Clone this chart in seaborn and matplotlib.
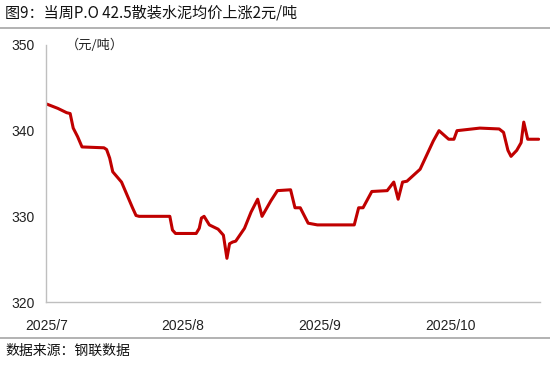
import matplotlib
matplotlib.use("Agg")
import matplotlib.pyplot as plt
import seaborn as sns
import pandas as pd

# Day offsets from 2025-07-01 and prices (元/吨)
day_offsets = [0, 2.5, 4.5, 5.3, 6, 7, 8, 13, 13.6, 14.3, 15, 17, 18, 19.5, 20.3, 21, 28, 28.6, 29.3,
               34, 34.7, 35.2, 35.8, 37, 39, 40.2, 41, 41.6, 42.3, 43, 45, 46.5, 48, 49,
               51, 52.5, 55.5, 56.5, 57.7, 59.5, 61.6, 70, 71, 72, 74, 77.5, 79, 80,
               81, 82, 85, 88, 89.3, 91.5, 92.7, 93.4, 98.6, 103, 104, 105, 105.7,
               107, 108, 108.6, 109.5, 112]
prices = [343.1, 342.6, 342.1, 342.0, 340.3, 339.3, 338.1, 338.0, 337.8, 336.8, 335.2, 334.0,
          332.8, 331.0, 330.1, 330.0, 330.0, 328.4, 328.0, 328.0, 328.6, 329.8, 330.0, 329.0, 328.5,
          327.8, 325.1, 326.8, 327.0, 327.1, 328.6, 330.5, 332.0, 330.0, 331.8, 333.0,
          333.1, 331.0, 331.0, 329.2, 329.0, 329.0, 331.0, 331.0, 332.9, 333.0, 334.0,
          332.0, 334.0, 334.1, 335.5, 338.8, 340.0, 339.0, 339.0, 340.0, 340.3, 340.2,
          339.8, 337.7, 337.0, 337.7, 338.6, 341.0, 339.0, 339.0]
y_ticks = [320, 330, 340, 350]
x_tick_labels = ["2025/7", "2025/8", "2025/9", "2025/10"]
x_tick_dates = ["2025-07-01", "2025-08-01", "2025-09-01", "2025-10-01"]

start = pd.Timestamp("2025-07-01")
df = pd.DataFrame({
    "date": [start + pd.Timedelta(days=d) for d in day_offsets],
    "price": prices,
})

sns.set_theme(style="white")
plt.rcParams['font.family'] = ['Liberation Sans', 'Noto Sans CJK SC', 'DejaVu Sans']

fig = plt.figure(figsize=(5.5, 3.67), dpi=100)
ax = fig.add_axes([46/550, 1-302/367, (540-46)/550, (302-45)/367])

sns.lineplot(data=df, x="date", y="price", ax=ax, color="#C00000", linewidth=2.2,
             solid_joinstyle="round", solid_capstyle="round")

ax.set_ylim(320, 350)
ax.set_yticks(y_ticks)
ax.set_xlim(start - pd.Timedelta(days=0.2), start + pd.Timedelta(days=112.3))
ax.set_xticks([pd.Timestamp(d) for d in x_tick_dates])
ax.set_xticklabels(x_tick_labels)
ax.set_xlabel("")
ax.set_ylabel("")

for s in ["top", "right"]:
    ax.spines[s].set_visible(False)
for s in ["left", "bottom"]:
    ax.spines[s].set_color("#BFBFBF")
    ax.spines[s].set_linewidth(1.0)
ax.tick_params(axis="both", which="major", direction="in", length=5, width=1,
               color="#BFBFBF", labelsize=10, labelcolor="#222222")
ax.tick_params(axis="y", pad=8)
ax.tick_params(axis="x", pad=12)

ax.text(66/550, 1-45/367, "（元/吨）", transform=fig.transFigure, fontsize=9.5,
        family=['Noto Sans CJK SC', 'DejaVu Sans'], color="#222222", va="center", ha="left")

fig.text(5/550, 1-13/367, "图9：当周P.O 42.5散装水泥均价上涨2元/吨", fontsize=10.9,
         family=['Noto Sans CJK SC', 'DejaVu Sans'], color="#111111", va="center", ha="left")
fig.text(5/550, 1-351/367, "数据来源：钢联数据", fontsize=10,
         family=['Noto Sans CJK SC', 'DejaVu Sans'], color="#111111", va="center", ha="left")

fig.add_artist(plt.Line2D([0, 1], [1-28/367, 1-28/367], transform=fig.transFigure,
                          color="#A6A6A6", linewidth=1.2))
fig.add_artist(plt.Line2D([0, 1], [1-338/367, 1-338/367], transform=fig.transFigure,
                          color="#A6A6A6", linewidth=1.2))

fig.savefig("out.png", dpi=100, facecolor="white")
